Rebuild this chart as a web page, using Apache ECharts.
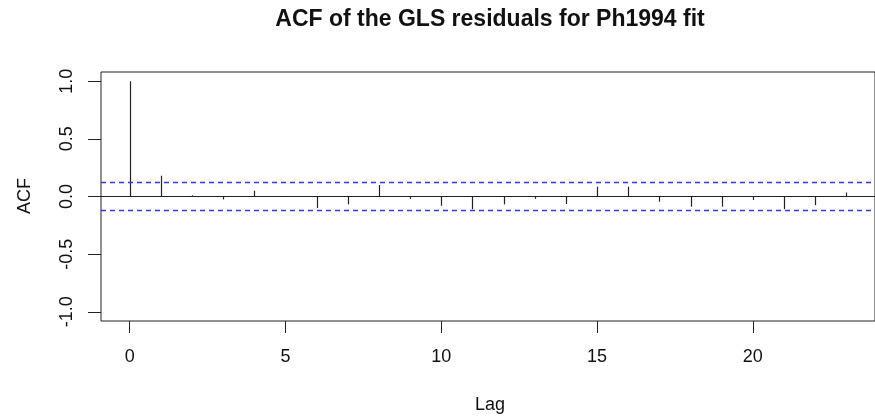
<!DOCTYPE html>
<html>
<head>
<meta charset="utf-8">
<script src="https://cdn.jsdelivr.net/npm/echarts@6/dist/echarts.min.js"></script>
<style>html,body{margin:0;padding:0;background:#fff;}#c{width:875px;height:419px;}</style>
</head>
<body>
<div id="c"></div>
<script>
const lags = [0,1,2,3,4,5,6,7,8,9,10,11,12,13,14,15,16,17,18,19,20,21,22,23];
const acfValues = [1.0, 0.18, 0.01, -0.025, 0.05, 0.005, -0.10, -0.068, 0.10, -0.02, -0.08, -0.11, -0.068, -0.02, -0.065, 0.085, 0.085, -0.045, -0.088, -0.088, -0.03, -0.11, -0.075, 0.035];
const ciBound = 0.123;
const xTicks = [0,5,10,15,20];
const yTicks = [-1,-0.5,0,0.5,1];
const titleText = 'ACF of the GLS residuals for Ph1994 fit';
const xLabel = 'Lag';
const yLabel = 'ACF';

const FONT = '"Liberation Sans", Arial, Helvetica, sans-serif';
const chart = echarts.init(document.getElementById('c'), null, {renderer:'canvas'});
const spikeData = lags.map((l,i)=>[l, acfValues[i]]);
const opt = {
  animation:false,
  backgroundColor:'#fff',
  grid:{left:101, top:72, width:779.5, height:249, show:true, borderColor:'#222', borderWidth:1, backgroundColor:'transparent', containLabel:false},
  xAxis:{type:'value', min:-0.92, max:23.92, splitLine:{show:false},
    axisLine:{show:false, onZero:false},
    axisTick:{show:true, length:12, inside:false, customValues:xTicks, lineStyle:{color:'#222'}},
    axisLabel:{show:true, customValues:xTicks, margin:27, fontSize:18, fontFamily:FONT, color:'#111', formatter:v=>String(v)}},
  yAxis:{type:'value', min:-1.08, max:1.08, splitLine:{show:false},
    axisLine:{show:false, onZero:false},
    axisTick:{show:true, length:13, customValues:yTicks, lineStyle:{color:'#222'}},
    axisLabel:{show:true, customValues:yTicks, rotate:90, margin:25, fontSize:18, fontFamily:FONT, color:'#111', formatter:v=>v.toFixed(1)}},
  series:[
    {type:'custom', data:spikeData, clip:false,
      renderItem:(params, api)=>{
        const p0 = api.coord([api.value(0), 0]);
        const p1 = api.coord([api.value(0), api.value(1)]);
        return {type:'line', shape:{x1:Math.round(p0[0])+0.5, y1:p0[1], x2:Math.round(p0[0])+0.5, y2:p1[1]}, style:{stroke:'#222', lineWidth:1.2}};
      },
      markLine:{silent:true, symbol:['none','none'], label:{show:false},
        data:[
          {yAxis:0, lineStyle:{color:'#222', type:'solid', width:1}},
          {yAxis:ciBound, lineStyle:{color:'#3535f0', type:[5,4], width:1.3}},
          {yAxis:-ciBound, lineStyle:{color:'#3535f0', type:[5,4], width:1.3}}
        ]}
    }
  ],
  graphic:[
    {type:'text', x:490, y:20, style:{text:titleText, font:'bold 23px '+FONT, fill:'#111', textAlign:'center', textVerticalAlign:'middle'}},
    {type:'text', x:490, y:405, style:{text:xLabel, font:'18px '+FONT, fill:'#111', textAlign:'center', textVerticalAlign:'middle'}},
    {type:'text', x:25, y:196, rotation:Math.PI/2, style:{text:yLabel, font:'18px '+FONT, fill:'#111', textAlign:'center', textVerticalAlign:'middle'}}
  ]
};
chart.setOption(opt);
</script>
</body>
</html>
